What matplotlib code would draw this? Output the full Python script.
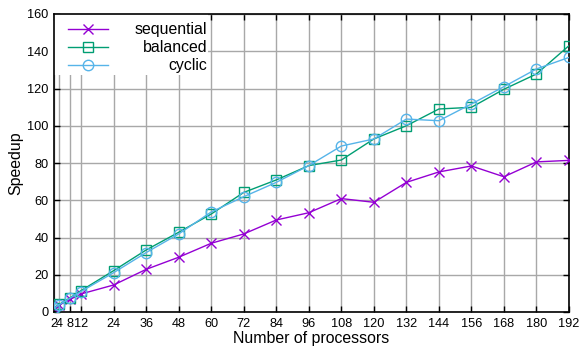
import matplotlib
matplotlib.use('Agg')
import matplotlib.pyplot as plt
from matplotlib.patches import Rectangle
from matplotlib.transforms import IdentityTransform

plt.rcParams['font.family'] = ['Liberation Sans', 'DejaVu Sans']

# 处理器数量
procs = [2, 4, 8, 12, 24, 36, 48, 60, 72, 84, 96, 108, 120, 132, 144, 156, 168, 180, 192]
sequential = [2, 3.8, 6.8, 9.7, 14.5, 22.9, 29.4, 36.9, 41.9, 49.4, 53.3, 60.9, 58.9,
              69.6, 75.2, 78.4, 72.6, 80.6, 81.4]
balanced = [2, 4.1, 7.7, 11.5, 22.2, 33.3, 42.8, 52.6, 64.2, 70.9, 78.6, 81.6, 92.9,
            100.0, 109.0, 109.9, 119.6, 127.8, 143.0]
cyclic = [2, 4.0, 7.5, 11.0, 21.1, 31.9, 41.9, 53.7, 61.9, 69.6, 78.6, 89.1, 92.9,
          103.6, 102.7, 111.7, 121.0, 130.5, 136.7]
labels = ['sequential', 'balanced', 'cyclic']

fig = plt.figure(figsize=(5.85, 3.54), dpi=100)
ax = fig.add_axes([54 / 585, 42 / 354, 515 / 585, 298 / 354])

ax.plot(procs, sequential, color='#9400d3', lw=1, marker='x', ms=7.5, mew=1,
        label=labels[0], zorder=3)
ax.plot(procs, balanced, color='#009e73', lw=1, marker='s', ms=7.5, mew=1, mfc='none',
        label=labels[1], zorder=3)
ax.plot(procs, cyclic, color='#56b4e9', lw=1, marker='o', ms=7.5, mew=1, mfc='none',
        label=labels[2], zorder=3)

ax.set_xlim(2, 192)
ax.set_ylim(0, 160)
ax.set_xticks(procs)
ax.set_yticks(range(0, 161, 20))
ax.grid(True, color='#a8a8a8', lw=1)
ax.set_axisbelow(True)
ax.tick_params(direction='in', top=True, right=True, length=4, width=1,
               labelsize=9.2, pad=4)
for s in ax.spines.values():
    s.set_linewidth(1.2)

ax.set_xlabel('Number of processors', fontsize=11.4, labelpad=1)
ax.set_ylabel('Speedup', fontsize=11.4, labelpad=3)

# 图例背景：白色矩形盖住网格
ax.add_patch(Rectangle((0, 0.795), 0.299, 0.205, transform=ax.transAxes,
                       facecolor='white', edgecolor='none', zorder=2.5))

# 图例：文字右对齐（先画透明文字占位，再叠加右对齐的文字）
leg = ax.legend(loc='upper left', bbox_to_anchor=(0.0272, 0.9715), frameon=False,
                borderaxespad=0, handlelength=2.5, handletextpad=1.72,
                labelspacing=0.18, borderpad=0, fontsize=11.4)
leg.set_zorder(5)
for t in leg.get_texts():
    t.set_alpha(0)
fig.canvas.draw()
r = fig.canvas.get_renderer()
boxes = [t.get_window_extent(r) for t in leg.get_texts()]
xr = max(b.x1 for b in boxes)
for lab, b in zip(labels, boxes):
    fig.text(xr, b.y0, lab, ha='right', va='bottom', fontsize=11.4,
             transform=IdentityTransform(), zorder=6)

fig.savefig('out.png', dpi=100)
